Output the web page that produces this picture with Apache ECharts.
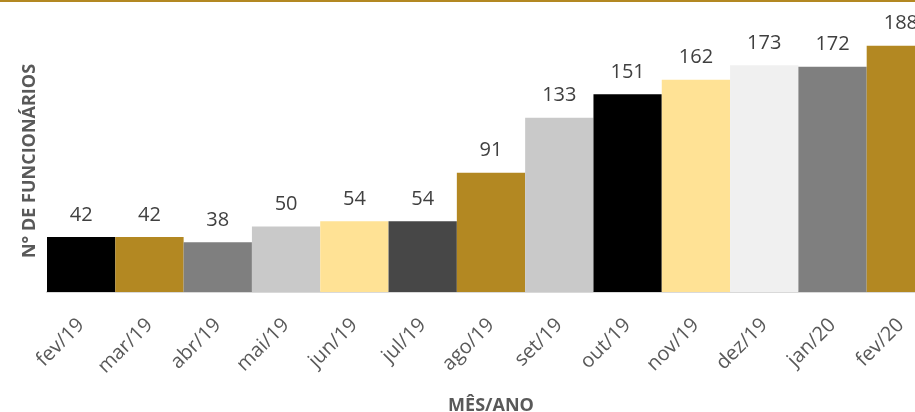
<!DOCTYPE html>
<html>
<head>
<meta charset="utf-8">
<script src="https://cdn.jsdelivr.net/npm/echarts@6/dist/echarts.min.js"></script>
<style>
html, body { margin: 0; padding: 0; background: #fff; }
#main { width: 915px; height: 412px; }
</style>
</head>
<body>
<div id="main"></div>
<script>
var meses = ['fev/19', 'mar/19', 'abr/19', 'mai/19', 'jun/19', 'jul/19', 'ago/19', 'set/19', 'out/19', 'nov/19', 'dez/19', 'jan/20', 'fev/20'];
var funcionarios = [42, 42, 38, 50, 54, 54, 91, 133, 151, 162, 173, 172, 188];
var cores = ['#000000', '#B38822', '#7F7F7F', '#C9C9C9', '#FFE295', '#474747', '#B38822', '#C9C9C9', '#000000', '#FFE295', '#F0F0F0', '#7F7F7F', '#B38822'];

var myChart = echarts.init(document.getElementById('main'));

var dados = [];
for (var i = 0; i < funcionarios.length; i++) {
	dados.push({ value: funcionarios[i], itemStyle: { color: cores[i] } });
}

var option = {
	animation: false,
	textStyle: { fontFamily: '"Open Sans", sans-serif' },
	graphic: [
		{ type: 'rect', left: 0, top: 0, shape: { width: 915, height: 2 }, style: { fill: '#B38822' } }
	],
	grid: { left: 47, top: 30, width: 888, height: 262, containLabel: false, outerBoundsMode: 'none' },
	xAxis: {
		type: 'category',
		data: meses,
		name: 'MÊS/ANO',
		nameLocation: 'middle',
		nameGap: 105,
		nameTextStyle: { color: '#595959', fontSize: 18, fontWeight: 'bold' },
		axisLine: { lineStyle: { color: '#D9D9D9', width: 2 } },
		axisTick: { show: false },
		axisLabel: { rotate: 45, color: '#595959', fontSize: 20, margin: 30, interval: 0 }
	},
	yAxis: {
		type: 'value',
		min: 0,
		max: 200,
		name: 'N° DE FUNCIONÁRIOS',
		nameLocation: 'middle',
		nameGap: 8,
		nameRotate: 90,
		nameTextStyle: { color: '#595959', fontSize: 18, fontWeight: 'bold' },
		axisLine: { show: false },
		axisTick: { show: false },
		axisLabel: { show: false },
		splitLine: { show: false }
	},
	series: [
		{
			type: 'bar',
			data: dados,
			barCategoryGap: 0,
			label: {
				show: true,
				position: 'top',
				distance: 12,
				color: '#404040',
				fontSize: 20
			}
		}
	]
};
myChart.setOption(option);
</script>
</body>
</html>
